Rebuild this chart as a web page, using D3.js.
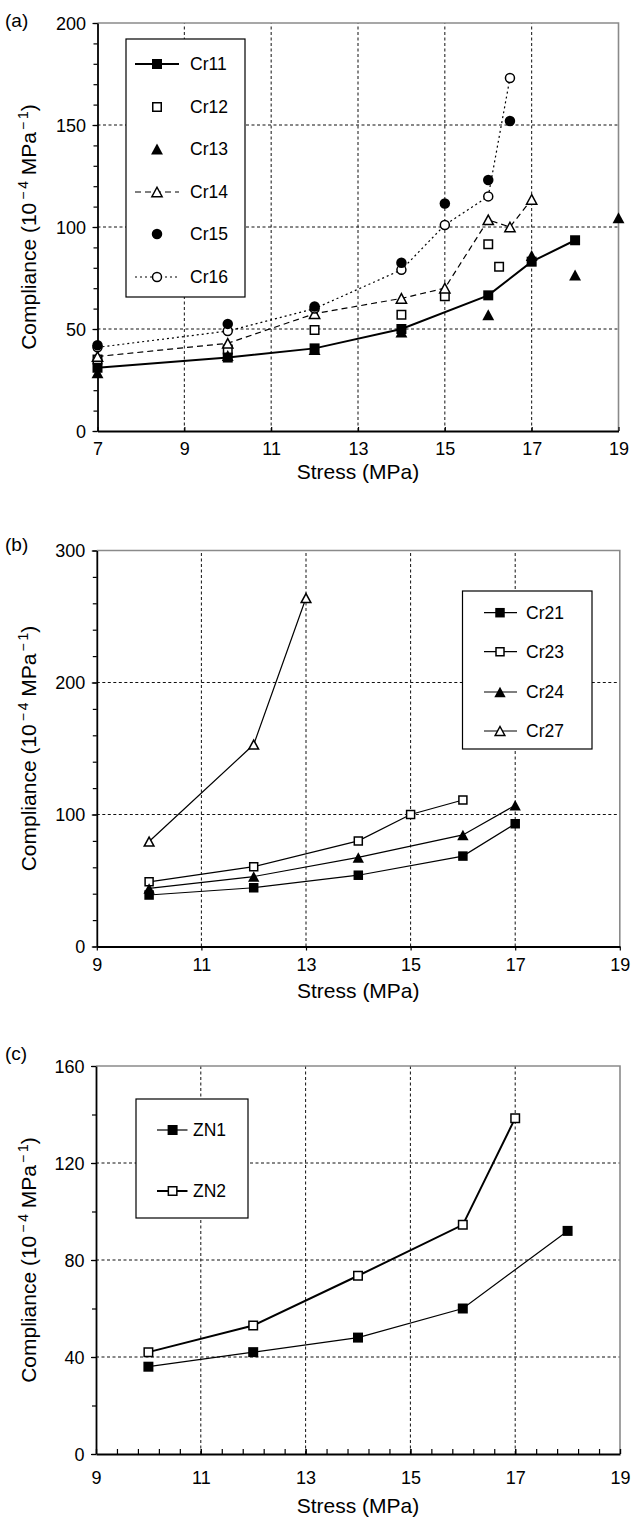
<!DOCTYPE html>
<html>
<head>
<meta charset="utf-8">
<script src="https://cdn.jsdelivr.net/npm/d3@7"></script>
<style>
  body { margin: 0; background: #fff; }
  svg { display: block; }
  text { font-family: "Liberation Sans", Arial, Helvetica, sans-serif; fill: #000; }
</style>
</head>
<body>
<svg id="chart" width="632" height="1518"></svg>
<script>
// ---- Panel (a): specimens Cr11–Cr16, [stress MPa, compliance 1e-4/MPa]
const cr11 = [[7, 31], [10, 36], [12, 40.5], [14, 50], [16, 66.5], [17, 83], [18, 93.5]];
const cr12 = [[7, 35], [10, 40], [12, 49.5], [14, 57], [15, 66], [16, 91.5], [16.25, 80.5]];
const cr13 = [[7, 28.5], [10, 37], [12, 40], [14, 48.5], [16, 57], [17, 86], [18, 76.5], [19, 104.5]];
const cr14 = [[7, 36.5], [10, 43], [12, 57.5], [14, 65], [15, 70], [16, 103.5], [16.5, 100], [17, 113.5]];
const cr15 = [[7, 42], [10, 52.5], [12, 61], [14, 82.5], [15, 111.5], [16, 123], [16.5, 152]];
const cr16 = [[7, 41], [10, 49], [12, 60], [14, 79], [15, 101], [16, 115], [16.5, 173]];

// ---- Panel (b): specimens Cr21, Cr23, Cr24, Cr27
const cr21 = [[10, 39], [12, 44.5], [14, 54], [16, 68.5], [17, 93]];
const cr23 = [[10, 49], [12, 60.5], [14, 80], [15, 100], [16, 111]];
const cr24 = [[10, 44], [12, 53], [14, 67.5], [16, 84.5], [17, 107]];
const cr27 = [[10, 79.5], [12, 153], [13, 264]];

// ---- Panel (c): specimens ZN1, ZN2
const zn1 = [[10, 36], [12, 42], [14, 48], [16, 60], [18, 92]];
const zn2 = [[10, 42], [12, 53], [14, 73.5], [16, 94.5], [17, 138.5]];

// ---- Tick values
const stressTicksA = [7, 9, 11, 13, 15, 17, 19];
const stressTicksBC = [9, 11, 13, 15, 17, 19];
const complianceTicksA = [0, 50, 100, 150, 200];
const complianceTicksB = [0, 100, 200, 300];
const complianceTicksC = [0, 40, 80, 120, 160];

const svg = d3.select("#chart");

function markerPath(shape, s) {
  if (shape === "square") return `M${-s / 2},${-s / 2}h${s}v${s}h${-s}Z`;
  if (shape === "triangle") {
    const w = s * 1.08, h = s;
    return `M0,${-h / 2}L${w / 2},${h / 2}L${-w / 2},${h / 2}Z`;
  }
  const r = s / 2;
  return `M${-r},0A${r},${r} 0 1,0 ${r},0A${r},${r} 0 1,0 ${-r},0Z`;
}

const dashes = { solid: null, dash: "6,4", dot: "2,3" };

function drawMarker(sel, m, cx, cy) {
  const inset = m.filled ? 0 : 1.5;
  sel.append("path")
    .attr("transform", `translate(${cx},${cy})`)
    .attr("d", markerPath(m.shape, m.size - inset))
    .attr("fill", m.filled ? "#000" : "#fff")
    .attr("stroke", m.filled ? "none" : "#000")
    .attr("stroke-width", m.filled ? 0 : 1.5);
}

function panel(cfg) {
  const g = svg.append("g");
  const x = d3.scaleLinear().domain(cfg.xDomain).range(cfg.xRange);
  const y = d3.scaleLinear().domain(cfg.yDomain).range(cfg.yRange);
  const [x0, x1] = cfg.xRange, [y0, y1] = cfg.yRange;

  // grid
  const grid = g.append("g").attr("stroke", "#111").attr("stroke-width", 1).attr("stroke-dasharray", "3,2.5");
  grid.selectAll(".gx").data(cfg.xTicks.slice(1, -1)).join("line")
    .attr("x1", d => x(d)).attr("x2", d => x(d)).attr("y1", y0).attr("y2", y1);
  grid.selectAll(".gy").data(cfg.yTicks.slice(1, -1)).join("line")
    .attr("x1", x0).attr("x2", x1).attr("y1", d => y(d)).attr("y2", d => y(d));

  // top and right frame
  g.append("path").attr("d", `M${x0},${y1}H${x1}V${y0}`)
    .attr("fill", "none").attr("stroke", "#8a8a8a").attr("stroke-width", 1.6);

  // minor ticks
  const yMinor = d3.range(cfg.yDomain[0], cfg.yDomain[1] + 1e-9, cfg.yMinor);
  g.append("g").attr("transform", `translate(${x0},0)`)
    .call(d3.axisLeft(y).tickValues(yMinor).tickSize(4).tickSizeOuter(0).tickFormat(""))
    .call(a => a.select(".domain").remove())
    .call(a => a.selectAll("line").attr("stroke", "#000").attr("stroke-width", 1.2));
  if (cfg.xMinor) {
    const xMinor = d3.range(cfg.xDomain[0], cfg.xDomain[1] + 1e-9, cfg.xMinor);
    g.append("g").attr("transform", `translate(0,${y0})`)
      .call(d3.axisBottom(x).tickValues(xMinor).tickSize(-5).tickSizeOuter(0).tickFormat(""))
      .call(a => a.select(".domain").remove())
      .call(a => a.selectAll("line").attr("stroke", "#000").attr("stroke-width", 1.2));
  }

  // major axes
  const yAxis = g.append("g").attr("transform", `translate(${x0},0)`)
    .call(d3.axisLeft(y).tickValues(cfg.yTicks).tickSize(5).tickSizeOuter(0).tickPadding(6.5));
  const xAxis = g.append("g").attr("transform", `translate(0,${y0})`)
    .call(d3.axisBottom(x).tickValues(cfg.xTicks).tickSize(cfg.xTickSize).tickSizeOuter(0).tickPadding(cfg.xPad));
  [yAxis, xAxis].forEach(a => {
    a.select(".domain").attr("stroke", "#000").attr("stroke-width", 1.8);
    a.selectAll(".tick line").attr("stroke", "#000").attr("stroke-width", 1.2);
    a.selectAll("text").attr("font-size", 18).attr("fill", "#000")
      .style("font-family", '"Liberation Sans", Arial, sans-serif');
  });
  yAxis.selectAll("text").attr("dy", "0.36em");

  // axis titles
  g.append("text").attr("x", (x0 + x1) / 2).attr("y", cfg.xTitleY)
    .attr("text-anchor", "middle").attr("font-size", 21).text("Stress (MPa)");
  const yt = g.append("text")
    .attr("transform", `translate(36,${(y0 + y1) / 2}) rotate(-90)`)
    .attr("text-anchor", "middle").attr("font-size", 21);
  yt.append("tspan").text("Compliance (10");
  yt.append("tspan").attr("font-size", 14).attr("dy", -8).attr("dx", 3).text("\u2212\u20094");
  yt.append("tspan").attr("dy", 8).text(" MPa");
  yt.append("tspan").attr("font-size", 14).attr("dy", -8).attr("dx", 2).text("\u2212\u20091");
  yt.append("tspan").attr("dy", 8).text(")");

  // panel letter
  g.append("text").attr("x", 5).attr("y", cfg.letterY).attr("font-size", 19).text(cfg.letter);

  // series lines
  const line = d3.line().x(d => x(d[0])).y(d => y(d[1]));
  cfg.series.filter(s => s.line).forEach(s => {
    g.append("path").datum(s.data).attr("d", line)
      .attr("fill", "none").attr("stroke", "#000")
      .attr("stroke-width", s.lineWidth)
      .attr("stroke-dasharray", dashes[s.line]);
  });
  // markers (in series drawing order)
  cfg.markerOrder.forEach(i => {
    const s = cfg.series[i];
    const mg = g.append("g");
    s.data.forEach(d => drawMarker(mg, s, x(d[0]), y(d[1])));
  });

  // legend
  const L = cfg.legend;
  const lg = g.append("g");
  lg.append("rect").attr("x", L.x).attr("y", L.y).attr("width", L.w).attr("height", L.h)
    .attr("fill", "#fff").attr("stroke", "#000").attr("stroke-width", 1.2);
  cfg.series.forEach((s, i) => {
    const cy = L.rows[i];
    if (s.line) {
      lg.append("line").attr("x1", L.lineX[0]).attr("x2", L.lineX[1]).attr("y1", cy).attr("y2", cy)
        .attr("stroke", "#000").attr("stroke-width", s.lineWidth)
        .attr("stroke-dasharray", dashes[s.line]);
    }
    drawMarker(lg, s, L.markX, cy);
    lg.append("text").attr("x", L.textX).attr("y", cy).attr("dy", "0.36em")
      .attr("font-size", 17.5).text(s.label);
  });
}

panel({
  letter: "(a)", letterY: 27,
  xDomain: [7, 19], xRange: [97.5, 618.5],
  yDomain: [0, 200], yRange: [431, 23],
  xTicks: stressTicksA, yTicks: complianceTicksA, yMinor: 10,
  xTickSize: -4, xPad: 11.5, xTitleY: 479,
  series: [
    { label: "Cr11", data: cr11, shape: "square", filled: true, size: 10, line: "solid", lineWidth: 2 },
    { label: "Cr12", data: cr12, shape: "square", filled: false, size: 10, line: null },
    { label: "Cr13", data: cr13, shape: "triangle", filled: true, size: 11, line: null },
    { label: "Cr14", data: cr14, shape: "triangle", filled: false, size: 11, line: "dash", lineWidth: 1.2 },
    { label: "Cr15", data: cr15, shape: "circle", filled: true, size: 10.5, line: null },
    { label: "Cr16", data: cr16, shape: "circle", filled: false, size: 10.5, line: "dot", lineWidth: 1.2 }
  ],
  markerOrder: [1, 3, 5, 2, 0, 4],
  legend: { x: 126, y: 39, w: 119, h: 258, rows: [64, 107, 149, 192, 234, 277],
            lineX: [135, 179], markX: 157, textX: 190 }
});

panel({
  letter: "(b)", letterY: 551,
  xDomain: [9, 19], xRange: [96.8, 619.8],
  yDomain: [0, 300], yRange: [946.5, 550.5],
  xTicks: stressTicksBC, yTicks: complianceTicksB, yMinor: 20,
  xTickSize: 4, xPad: 8, xTitleY: 998,
  series: [
    { label: "Cr21", data: cr21, shape: "square", filled: true, size: 9.5, line: "solid", lineWidth: 1.2 },
    { label: "Cr23", data: cr23, shape: "square", filled: false, size: 9.5, line: "solid", lineWidth: 1.2 },
    { label: "Cr24", data: cr24, shape: "triangle", filled: true, size: 10.5, line: "solid", lineWidth: 1.2 },
    { label: "Cr27", data: cr27, shape: "triangle", filled: false, size: 10.5, line: "solid", lineWidth: 1.2 }
  ],
  markerOrder: [0, 1, 2, 3],
  legend: { x: 462.5, y: 591, w: 129.5, h: 158, rows: [612.7, 651.7, 692, 731],
            lineX: [484, 517], markX: 500, textX: 526 }
});

panel({
  letter: "(c)", letterY: 1060,
  xDomain: [9, 19], xRange: [96, 620],
  yDomain: [0, 160], yRange: [1454, 1066],
  xTicks: stressTicksBC, yTicks: complianceTicksC, yMinor: 20, xMinor: 0.4,
  xTickSize: -5, xPad: 17, xTitleY: 1513,
  series: [
    { label: "ZN1", data: zn1, shape: "square", filled: true, size: 10, line: "solid", lineWidth: 1.2 },
    { label: "ZN2", data: zn2, shape: "square", filled: false, size: 10, line: "solid", lineWidth: 2 }
  ],
  markerOrder: [0, 1],
  legend: { x: 136, y: 1099, w: 112, h: 119, rows: [1130, 1191],
            lineX: [157, 187.5], markX: 172.6, textX: 193 }
});
</script>
</body>
</html>
